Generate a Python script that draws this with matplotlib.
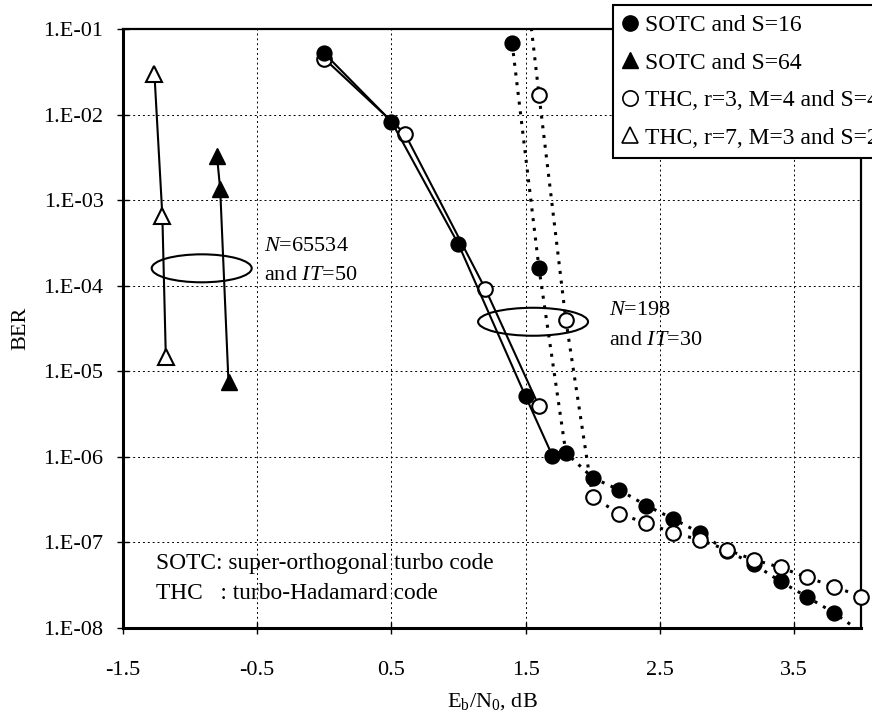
import math
import matplotlib
matplotlib.use("Agg")
import matplotlib.pyplot as plt
from matplotlib.lines import Line2D
from matplotlib.patches import Ellipse
from matplotlib.ticker import FixedLocator, FuncFormatter

plt.rcParams['font.family'] = ['Liberation Serif', 'DejaVu Serif']
plt.rcParams['mathtext.fontset'] = 'custom'
plt.rcParams['mathtext.rm'] = 'Liberation Serif'
plt.rcParams['mathtext.it'] = 'Liberation Serif:italic'

# SOTC, S=16 (solid)
sotc16_x = [0.0, 0.5, 1.0, 1.5, 1.7]
sotc16_ber = [5.2e-2, 8.3e-3, 3.05e-4, 5.1e-6, 1.03e-6]
# THC, r=3, M=4, S=4 (solid)
thc4_x = [0.0, 0.6, 1.2, 1.6]
thc4_ber = [4.5e-2, 6.0e-3, 9.2e-5, 3.9e-6]

# N=198, IT=30 (dotted)
sotc16_short_x = [1.4, 1.6, 1.8, 2.0, 2.2, 2.4, 2.6, 2.8, 3.0, 3.2, 3.4, 3.6, 3.8, 4.0]
sotc16_short_ber = [6.8e-2, 1.6e-4, 1.12e-6, 5.7e-7, 4.1e-7, 2.7e-7, 1.89e-7, 1.29e-7,
                    8.0e-8, 5.6e-8, 3.5e-8, 2.3e-8, 1.5e-8, 9e-9]
thc4_short_x = [1.5, 1.6, 1.8, 2.0, 2.2, 2.4, 2.6, 2.8, 3.0, 3.2, 3.4, 3.6, 3.8, 4.0]
thc4_short_ber = [4e-1, 1.7e-2, 4.0e-5, 3.4e-7, 2.16e-7, 1.68e-7, 1.3e-7, 1.07e-7,
                  8.2e-8, 6.3e-8, 5.1e-8, 3.9e-8, 3.05e-8, 2.33e-8]

# N=65534, IT=50
sotc64_x = [-0.80, -0.776, -0.714]
sotc64_ber = [3.3e-3, 1.35e-3, 7.4e-6]
thc2_x = [-1.266, -1.207, -1.181]
thc2_ber = [2.98e-2, 6.6e-4, 1.45e-5]

x_ticks = [-1.5, -0.5, 0.5, 1.5, 2.5, 3.5]
y_ticks = [1e-8, 1e-7, 1e-6, 1e-5, 1e-4, 1e-3, 1e-2, 1e-1]
legend_labels = ["SOTC and S=16", "SOTC and S=64",
                 "THC, r=3, M=4 and S=4", "THC, r=7, M=3 and S=2"]

fig = plt.figure(figsize=(8.72, 7.18), dpi=100)
ax = fig.add_axes([0.1411, 0.1253, 0.8463, 0.8343])

filled = dict(marker='o', ms=10.5, mfc='black', mec='black', mew=1.2)
hollow = dict(marker='o', ms=10.5, mfc='white', mec='black', mew=1.5)

# solid curves
ax.plot(thc4_x, thc4_ber, color='black', lw=1.5, **hollow, zorder=3)
ax.plot(sotc16_x, sotc16_ber, color='black', lw=1.5, **filled, zorder=4)

# dotted curves: line clipped, markers not
ax.plot(sotc16_short_x, sotc16_short_ber, color='black', lw=2.2, ls=(0, (1, 2.2)), zorder=3)
ax.plot(thc4_short_x, thc4_short_ber, color='black', lw=2.2, ls=(0, (1, 2.2)), zorder=3)
ax.plot(sotc16_short_x[:-1], sotc16_short_ber[:-1], ls='none', **filled, zorder=4)
ax.plot(thc4_short_x[1:], thc4_short_ber[1:], ls='none', **hollow, zorder=5, clip_on=False)

# triangles
ax.plot(sotc64_x, sotc64_ber, color='black', lw=1.5, marker='^', ms=12,
        mfc='black', mec='black', zorder=4)
ax.plot(thc2_x, thc2_ber, color='black', lw=1.5, marker='^', ms=12,
        mfc='white', mec='black', mew=1.5, zorder=4)

ax.set_yscale('log')
ax.set_xlim(-1.5, 4.0)
ax.set_ylim(1e-8, 1e-1)
ax.xaxis.set_major_locator(FixedLocator(x_ticks))
ax.yaxis.set_major_locator(FixedLocator(y_ticks))
ax.yaxis.set_minor_locator(FixedLocator([]))
ax.yaxis.set_major_formatter(FuncFormatter(lambda v, p: "1.E-%02d" % round(-math.log10(v))))
ax.xaxis.set_major_formatter(FuncFormatter(lambda v, p: "%.1f" % v))
ax.tick_params(axis='both', which='major', direction='inout', length=8, width=1,
               labelsize=16, colors='black')
ax.tick_params(axis='y', pad=10)
ax.tick_params(axis='x', pad=20)
ax.grid(True, which='major', color='black', ls=(0, (2, 3)), lw=0.7)
for side in ['left', 'bottom']:
    ax.spines[side].set_linewidth(2.2)
for side in ['top', 'right']:
    ax.spines[side].set_linewidth(1.6)

ax.set_xlabel(r"E$_\mathrm{b}$/N$_0$, dB", fontsize=16)
ax.set_ylabel("BER", fontsize=16)
ax.xaxis.set_label_coords(0.5, -0.105)
ax.yaxis.set_label_coords(-0.126, 0.5)

# ellipses around curve groups (axes coordinates)
ax.add_patch(Ellipse((0.1066, 0.6005), 0.1355, 0.0467, transform=ax.transAxes,
                     fill=False, ec='black', lw=1.5, zorder=6))
ax.add_patch(Ellipse((0.5556, 0.5113), 0.149, 0.0467, transform=ax.transAxes,
                     fill=False, ec='black', lw=1.5, zorder=6))

ax.text(-0.448, 2.86e-4, r"$\mathit{N}$=65534", fontsize=16, va='center', ha='left')
ax.text(-0.448, 1.3e-4, r"and $\mathit{IT}$=50", fontsize=16, va='center', ha='left')
ax.text(2.119, 5.2e-5, r"$\mathit{N}$=198", fontsize=16, va='center', ha='left')
ax.text(2.119, 2.3e-5, r"and $\mathit{IT}$=30", fontsize=16, va='center', ha='left')
ax.text(-1.254, 5.7e-8, "SOTC: super-orthogonal turbo code", fontsize=16.8, va='center', ha='left')
ax.text(-1.254, 2.5e-8, "THC   : turbo-Hadamard code", fontsize=16.8, va='center', ha='left')

handles = [
    Line2D([], [], ls='none', marker='o', ms=11, mfc='black', mec='black'),
    Line2D([], [], ls='none', marker='^', ms=12, mfc='black', mec='black'),
    Line2D([], [], ls='none', marker='o', ms=11, mfc='white', mec='black', mew=1.2),
    Line2D([], [], ls='none', marker='^', ms=12, mfc='white', mec='black', mew=1.2),
]
leg = fig.legend(handles, legend_labels, loc='upper left', bbox_to_anchor=(613 / 872, 1 - 5 / 718),
                 fontsize=17, frameon=True, fancybox=False, framealpha=1, edgecolor='black',
                 handlelength=0.65, handletextpad=0.3, borderpad=0.4, labelspacing=0.68,
                 borderaxespad=0)
leg.get_frame().set_linewidth(1.5)

fig.savefig("out.png", dpi=100)
